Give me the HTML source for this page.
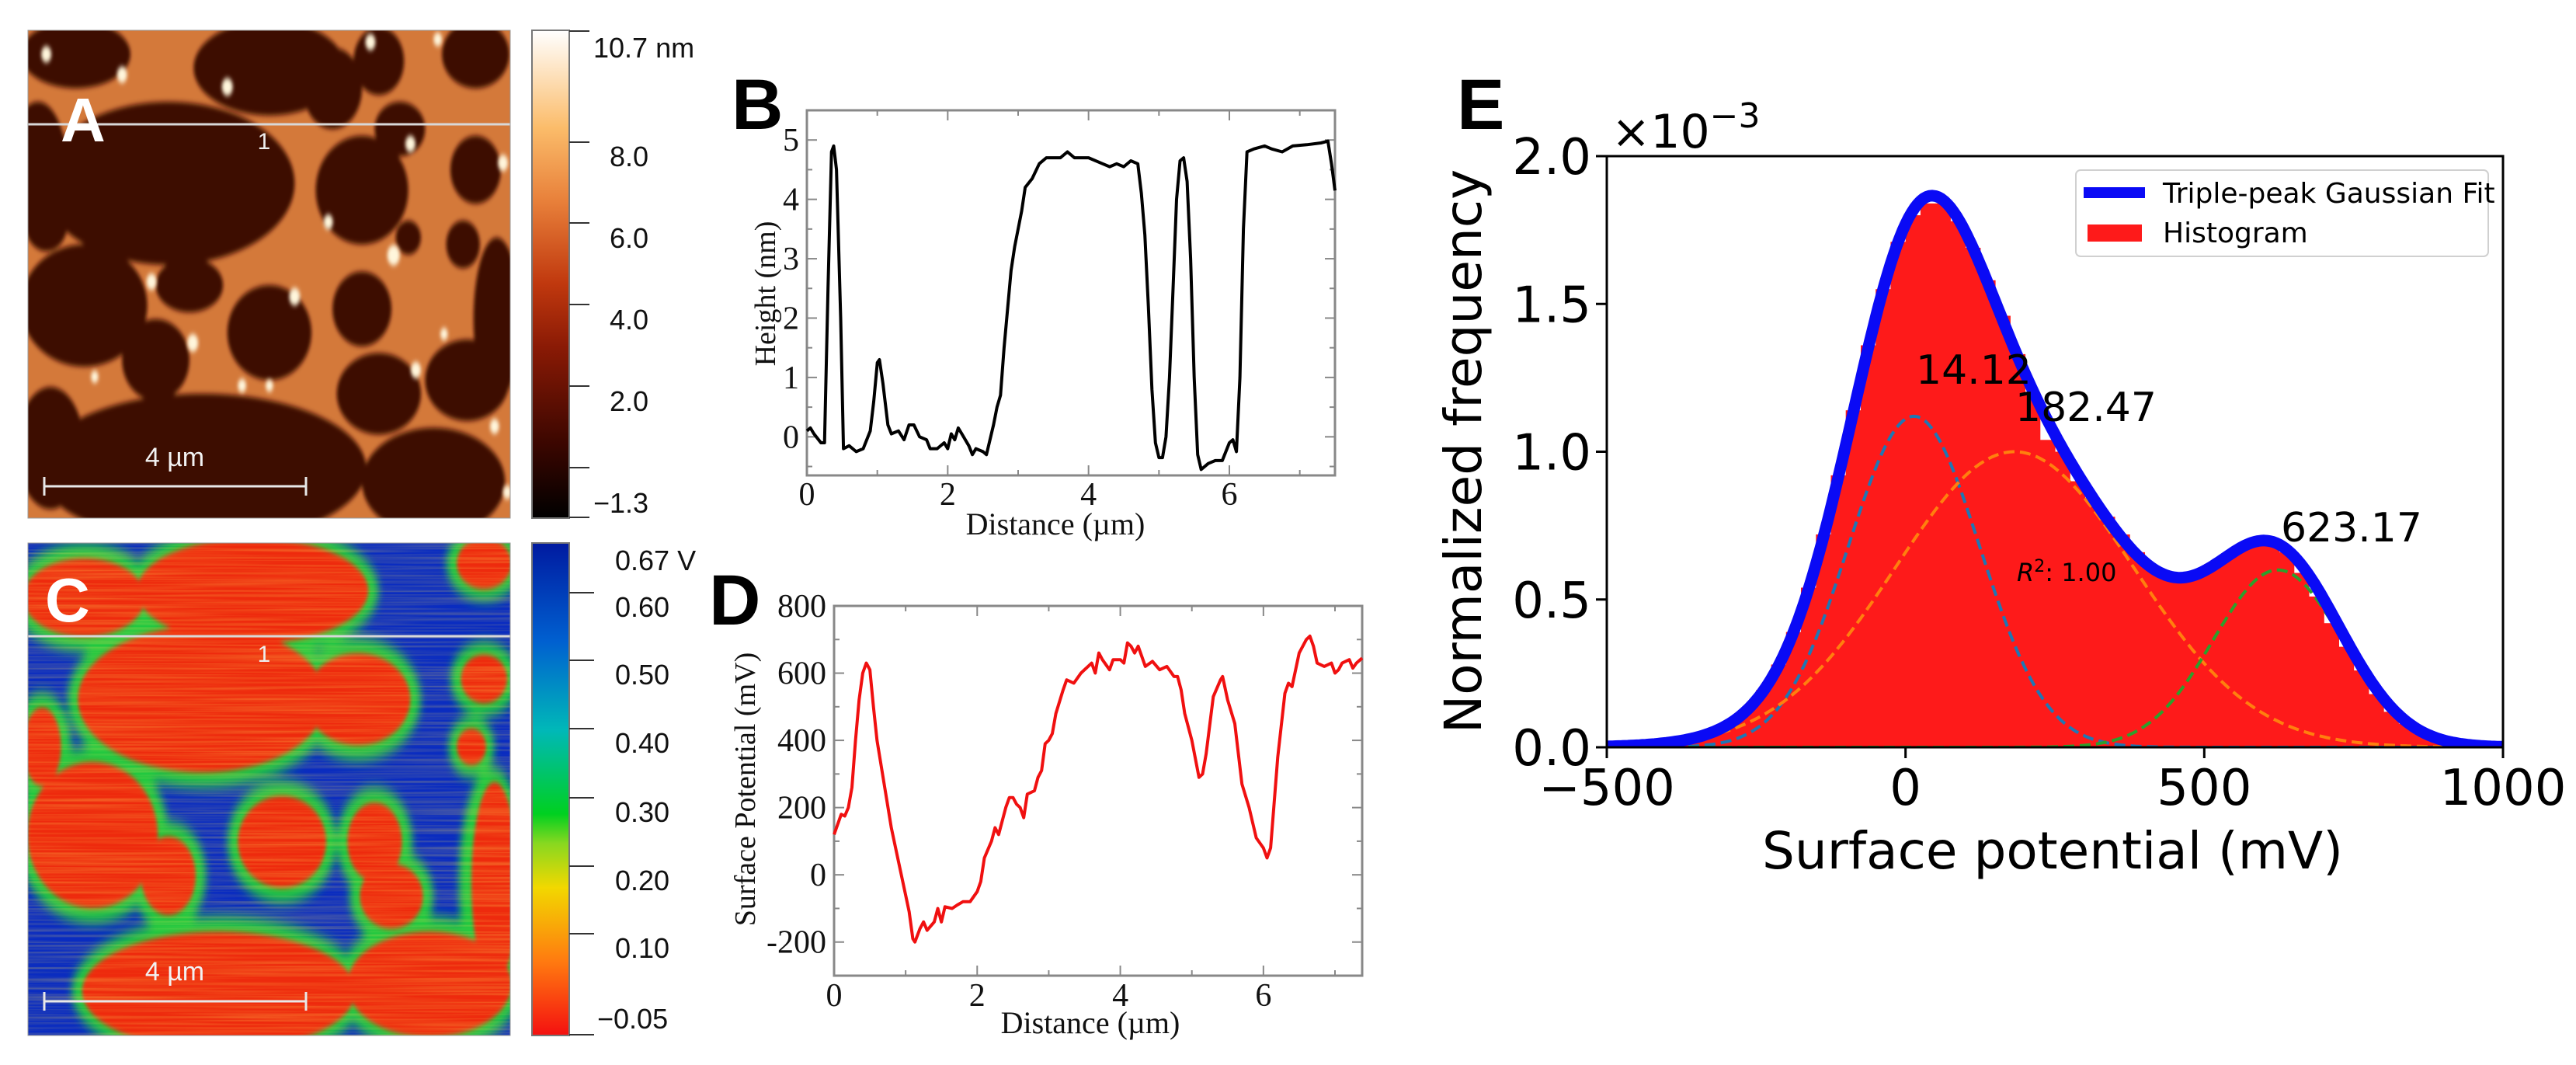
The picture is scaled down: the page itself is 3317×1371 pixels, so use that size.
<!DOCTYPE html>
<html><head><meta charset="utf-8"><style>
html,body{margin:0;padding:0;background:#fff;}
svg{display:block;}
.serif{font-family:"Liberation Serif","DejaVu Serif",serif;}
.sans{font-family:"Liberation Sans","DejaVu Sans",sans-serif;}
.dv{font-family:"DejaVu Sans","Liberation Sans",sans-serif;}
</style></head><body>
<svg id="fig" width="3317" height="1371" viewBox="0 0 3317 1371" xmlns="http://www.w3.org/2000/svg">
<defs>
<filter id="soft" x="-20%" y="-20%" width="140%" height="140%"><feGaussianBlur stdDeviation="4"/></filter>
<filter id="soft2" x="-20%" y="-20%" width="140%" height="140%"><feGaussianBlur stdDeviation="9"/></filter>
<filter id="noise" x="0" y="0" width="100%" height="100%">
<feTurbulence type="fractalNoise" baseFrequency="0.004 0.35" numOctaves="2" seed="3" result="t"/>
<feColorMatrix type="matrix" values="0 0 0 0 1  0 0 0 0 0.75  0 0 0 0 0.1  0 0 0 1.6 -0.55"/>
</filter>
<linearGradient id="gA" x1="0" y1="1" x2="0" y2="0">
<stop offset="0" stop-color="#000"/><stop offset="0.15" stop-color="#3a0600"/><stop offset="0.35" stop-color="#8a1a05"/><stop offset="0.48" stop-color="#c0380e"/><stop offset="0.65" stop-color="#e8803a"/><stop offset="0.8" stop-color="#fbbc6a"/><stop offset="1" stop-color="#fff"/>
</linearGradient>
<linearGradient id="gC" x1="0" y1="1" x2="0" y2="0">
<stop offset="0" stop-color="#f41010"/><stop offset="0.15" stop-color="#ff7a10"/><stop offset="0.3" stop-color="#f2d800"/><stop offset="0.39" stop-color="#88d820"/><stop offset="0.45" stop-color="#00d020"/><stop offset="0.62" stop-color="#00b8b8"/><stop offset="0.8" stop-color="#0060d0"/><stop offset="1" stop-color="#001aa0"/>
</linearGradient>
<clipPath id="clipA"><rect x="36" y="39" width="621" height="628"/></clipPath>
<clipPath id="clipC"><rect x="36" y="699" width="621" height="634"/></clipPath>
<clipPath id="clipE"><rect x="2069" y="150" width="1154" height="812"/></clipPath>
</defs>

<!-- Panel A image -->
<g clip-path="url(#clipA)">
<rect x="36" y="39" width="621" height="628" fill="#d4793a"/>
<g transform="scale(0.542,0.874)" fill="#3c0a02" filter="url(#soft)">
<ellipse cx="180" cy="80" rx="130" ry="50"/><ellipse cx="90" cy="250" rx="70" ry="100"/>
<ellipse cx="400" cy="270" rx="300" ry="120"/><ellipse cx="640" cy="100" rx="180" ry="70"/>
<ellipse cx="790" cy="130" rx="70" ry="60"/><ellipse cx="900" cy="90" rx="60" ry="50"/>
<ellipse cx="1130" cy="80" rx="80" ry="50"/><ellipse cx="950" cy="190" rx="60" ry="40"/>
<ellipse cx="1130" cy="250" rx="60" ry="50"/><ellipse cx="860" cy="280" rx="110" ry="80"/>
<ellipse cx="970" cy="350" rx="30" ry="25"/><ellipse cx="1100" cy="360" rx="40" ry="35"/>
<ellipse cx="200" cy="450" rx="150" ry="90"/><ellipse cx="110" cy="330" rx="50" ry="40"/>
<ellipse cx="450" cy="420" rx="80" ry="40"/><ellipse cx="370" cy="530" rx="80" ry="60"/>
<ellipse cx="640" cy="490" rx="100" ry="70"/><ellipse cx="860" cy="455" rx="70" ry="55"/>
<ellipse cx="1180" cy="470" rx="55" ry="120"/><ellipse cx="900" cy="580" rx="100" ry="60"/>
<ellipse cx="1110" cy="560" rx="100" ry="60"/><ellipse cx="480" cy="690" rx="390" ry="110"/>
<ellipse cx="1030" cy="710" rx="170" ry="80"/><ellipse cx="120" cy="660" rx="80" ry="90"/>
</g>
<g transform="scale(0.542,0.874)" fill="#fff6dc" filter="url(#soft)">
<circle cx="110" cy="80" r="12"/><circle cx="290" cy="110" r="12"/><circle cx="540" cy="128" r="13"/><circle cx="880" cy="62" r="12"/><circle cx="1040" cy="58" r="10"/><circle cx="975" cy="212" r="12"/><circle cx="1195" cy="240" r="12"/><circle cx="780" cy="327" r="11"/><circle cx="935" cy="376" r="15"/><circle cx="700" cy="437" r="13"/><circle cx="360" cy="415" r="12"/><circle cx="458" cy="505" r="13"/><circle cx="1055" cy="492" r="9"/><circle cx="988" cy="545" r="12"/><circle cx="575" cy="568" r="10"/><circle cx="640" cy="568" r="9"/><circle cx="225" cy="555" r="9"/><circle cx="1175" cy="628" r="11"/><circle cx="1205" cy="725" r="10"/>
</g>
<line x1="36" y1="160" x2="657" y2="160" stroke="#d8d8d8" stroke-width="3"/>
<text x="340" y="192" class="sans" font-size="30" fill="#eee" text-anchor="middle">1</text>
<text x="78" y="182" class="sans" font-size="80" font-weight="bold" fill="#fff">A</text>
<g stroke="#e8e8e8" stroke-width="3"><line x1="57" y1="626" x2="394" y2="626"/><line x1="57" y1="614" x2="57" y2="638"/><line x1="394" y1="614" x2="394" y2="638"/></g>
<text x="225" y="600" class="sans" font-size="34" fill="#f2f2f2" text-anchor="middle">4 µm</text>
</g>

<!-- Panel C image -->
<g clip-path="url(#clipC)">
<rect x="36" y="699" width="621" height="634" fill="#0a2cc0"/>
<g transform="translate(0,0) scale(0.542,0.874)">
<g fill="#20c840" filter="url(#soft2)">
<ellipse cx="600" cy="870" rx="300" ry="100"/><ellipse cx="200" cy="880" rx="170" ry="80"/><ellipse cx="1150" cy="830" rx="90" ry="55"/>
<ellipse cx="480" cy="1030" rx="320" ry="130"/><ellipse cx="850" cy="1030" rx="150" ry="90"/><ellipse cx="1150" cy="1000" rx="80" ry="55"/>
<ellipse cx="100" cy="1100" rx="70" ry="80"/><ellipse cx="220" cy="1230" rx="180" ry="130"/><ellipse cx="670" cy="1240" rx="130" ry="90"/>
<ellipse cx="890" cy="1240" rx="90" ry="80"/><ellipse cx="400" cy="1290" rx="90" ry="80"/><ellipse cx="1120" cy="1100" rx="55" ry="45"/>
<ellipse cx="1170" cy="1300" rx="80" ry="170"/><ellipse cx="930" cy="1320" rx="100" ry="70"/><ellipse cx="520" cy="1460" rx="350" ry="110"/><ellipse cx="1020" cy="1450" rx="220" ry="100"/>
</g>
<g fill="#ee2a10" filter="url(#soft)">
<ellipse cx="600" cy="870" rx="275" ry="78"/><ellipse cx="200" cy="880" rx="145" ry="58"/><ellipse cx="1150" cy="830" rx="65" ry="38"/>
<ellipse cx="480" cy="1030" rx="295" ry="108"/><ellipse cx="850" cy="1030" rx="125" ry="68"/><ellipse cx="1150" cy="1000" rx="55" ry="36"/>
<ellipse cx="100" cy="1100" rx="45" ry="58"/><ellipse cx="220" cy="1230" rx="155" ry="108"/><ellipse cx="670" cy="1240" rx="105" ry="68"/>
<ellipse cx="890" cy="1240" rx="65" ry="58"/><ellipse cx="400" cy="1290" rx="65" ry="58"/><ellipse cx="1120" cy="1100" rx="35" ry="27"/>
<ellipse cx="1175" cy="1300" rx="55" ry="148"/><ellipse cx="930" cy="1320" rx="75" ry="48"/><ellipse cx="520" cy="1460" rx="325" ry="88"/><ellipse cx="1020" cy="1450" rx="195" ry="78"/>
</g>
</g>
<rect x="36" y="699" width="621" height="634" fill="#fff" filter="url(#noise)" opacity="0.35"/>
<line x1="36" y1="819" x2="657" y2="819" stroke="#d8d8d8" stroke-width="3"/>
<text x="340" y="852" class="sans" font-size="30" fill="#eee" text-anchor="middle">1</text>
<text x="58" y="800" class="sans" font-size="80" font-weight="bold" fill="#fff">C</text>
<g stroke="#e8e8e8" stroke-width="3"><line x1="57" y1="1289" x2="394" y2="1289"/><line x1="57" y1="1277" x2="57" y2="1301"/><line x1="394" y1="1277" x2="394" y2="1301"/></g>
<text x="225" y="1262" class="sans" font-size="34" fill="#f2f2f2" text-anchor="middle">4 µm</text>
</g>
<rect x="36" y="39" width="621" height="628" fill="none" stroke="#999" stroke-width="1"/>
<rect x="36" y="699" width="621" height="634" fill="none" stroke="#999" stroke-width="1"/>

<!-- Colorbars -->
<g>
<rect x="685" y="39" width="48" height="628" fill="url(#gA)" stroke="#777" stroke-width="2"/>
<g stroke="#333" stroke-width="2"><line x1="733" y1="40" x2="759" y2="40"/><line x1="733" y1="183" x2="759" y2="183"/><line x1="733" y1="287" x2="759" y2="287"/><line x1="733" y1="392" x2="759" y2="392"/><line x1="733" y1="497" x2="759" y2="497"/><line x1="733" y1="602" x2="759" y2="602"/><line x1="733" y1="666" x2="759" y2="666"/></g>
<g class="sans" font-size="36" fill="#111"><text x="764" y="74">10.7 nm</text><text x="785" y="214">8.0</text><text x="785" y="319">6.0</text><text x="785" y="424">4.0</text><text x="785" y="529">2.0</text><text x="764" y="660">−1.3</text></g>
</g>
<g>
<rect x="685" y="699" width="48" height="634" fill="url(#gC)" stroke="#777" stroke-width="2"/>
<g stroke="#333" stroke-width="2"><line x1="733" y1="763" x2="765" y2="763"/><line x1="733" y1="850" x2="765" y2="850"/><line x1="733" y1="938" x2="765" y2="938"/><line x1="733" y1="1027" x2="765" y2="1027"/><line x1="733" y1="1115" x2="765" y2="1115"/><line x1="733" y1="1202" x2="765" y2="1202"/><line x1="733" y1="1332" x2="765" y2="1332"/></g>
<g class="sans" font-size="36" fill="#111"><text x="792" y="734">0.67 V</text><text x="792" y="794">0.60</text><text x="792" y="881">0.50</text><text x="792" y="969">0.40</text><text x="792" y="1058">0.30</text><text x="792" y="1146">0.20</text><text x="792" y="1233">0.10</text><text x="769" y="1324">−0.05</text></g>
</g>

<g id="panelB"></g>
<g id="panelD"></g>
<g id="panelE"></g>
</svg>

<script>
// ---- Panel B data ----
const bX = [0,0.05,0.1,0.2,0.25,0.3,0.35,0.38,0.42,0.48,0.52,0.6,0.7,0.8,0.9,0.95,1.0,1.03,1.08,1.15,1.2,1.3,1.38,1.45,1.52,1.6,1.7,1.75,1.85,1.95,2.0,2.05,2.1,2.15,2.2,2.3,2.35,2.4,2.5,2.55,2.65,2.7,2.75,2.8,2.9,2.95,3.05,3.1,3.2,3.3,3.4,3.6,3.7,3.8,4.0,4.2,4.3,4.4,4.5,4.6,4.7,4.75,4.8,4.85,4.9,4.95,5.0,5.05,5.1,5.15,5.2,5.25,5.3,5.35,5.4,5.45,5.5,5.55,5.6,5.7,5.8,5.9,6.0,6.05,6.1,6.15,6.2,6.25,6.35,6.5,6.6,6.75,6.9,7.1,7.3,7.4,7.45,7.5];
const bY = [0.1,0.15,0.05,-0.1,-0.1,2.5,4.8,4.9,4.5,2,-0.2,-0.15,-0.25,-0.2,0.1,0.6,1.25,1.3,0.9,0.2,0.05,0.1,-0.05,0.2,0.2,0,-0.05,-0.2,-0.2,-0.1,-0.2,0.05,-0.05,0.15,0.05,-0.15,-0.3,-0.2,-0.25,-0.3,0.2,0.5,0.7,1.5,2.8,3.2,3.8,4.2,4.35,4.6,4.7,4.7,4.8,4.7,4.7,4.6,4.55,4.6,4.55,4.65,4.6,4.1,3.4,2.2,0.8,-0.1,-0.35,-0.35,0,1,2.5,4.0,4.65,4.7,4.3,3,1,-0.3,-0.55,-0.45,-0.4,-0.4,-0.1,-0.05,-0.25,1,3.5,4.8,4.85,4.9,4.85,4.8,4.9,4.92,4.95,4.98,4.6,4.15];
const bXTicks = [0,2,4,6];
const bYTicks = [0,1,2,3,4,5];
// ---- Panel D data ----
const dX = [0,0.05,0.1,0.15,0.2,0.25,0.3,0.35,0.4,0.45,0.5,0.55,0.6,0.7,0.8,0.9,1.0,1.05,1.1,1.13,1.2,1.25,1.3,1.4,1.45,1.5,1.55,1.65,1.72,1.8,1.9,2.0,2.05,2.1,2.2,2.25,2.3,2.4,2.45,2.5,2.55,2.6,2.65,2.7,2.8,2.85,2.9,2.95,3.0,3.05,3.1,3.2,3.25,3.35,3.45,3.6,3.65,3.7,3.75,3.85,3.9,4.0,4.05,4.1,4.15,4.2,4.25,4.3,4.35,4.45,4.55,4.65,4.75,4.8,4.85,4.9,5.0,5.1,5.15,5.2,5.3,5.4,5.43,5.5,5.6,5.7,5.8,5.9,6.0,6.05,6.1,6.2,6.3,6.35,6.4,6.5,6.6,6.65,6.7,6.75,6.85,6.95,7.0,7.05,7.1,7.2,7.25,7.3,7.38];
const dY = [120,150,180,175,200,260,400,520,600,630,610,500,400,270,140,40,-60,-110,-190,-200,-160,-140,-165,-140,-100,-140,-95,-100,-90,-80,-80,-50,-20,50,100,140,120,200,230,230,210,200,170,240,250,290,310,390,400,420,480,550,580,570,600,630,600,660,640,610,640,640,630,690,680,660,680,650,620,635,610,620,590,590,550,480,400,290,300,360,530,580,590,520,450,270,200,110,80,50,80,350,540,570,560,660,700,710,680,630,620,630,600,610,630,640,615,630,645];
const dXTicks = [0,2,4,6];
const dYTicks = [-200,0,200,400,600,800];
// ---- Panel E data ----
const eBinStart = -500, eBinWidth = 25;
const eHist = [0.004,0.006,0.009,0.013,0.02,0.03,0.042,0.063,0.093,0.133,0.194,0.28,0.39,0.54,0.72,0.92,1.14,1.36,1.55,1.71,1.8,1.84,1.84,1.78,1.69,1.58,1.46,1.33,1.2,1.04,1.0,0.9,0.84,0.78,0.72,0.66,0.6,0.58,0.57,0.58,0.62,0.65,0.68,0.70,0.69,0.66,0.59,0.51,0.42,0.34,0.26,0.18,0.12,0.08,0.045,0.025,0.012,0.005,0.002,0.001];
const eAmps = [1.12,1.0,0.6];
const eMeans = [14.12,182.47,623.17];
const eSigmas = [110,200,108];
const ePeakLabels = ["14.12","182.47","623.17"];
const eXTicks = [-500,0,500,1000];
const eYTicks = [0.0,0.5,1.0,1.5,2.0];

const NS = "http://www.w3.org/2000/svg";
function mk(parent, tag, attrs, text){
  const el = document.createElementNS(NS, tag);
  for (const k in attrs) el.setAttribute(k, attrs[k]);
  if (text !== undefined) el.textContent = text;
  parent.appendChild(el);
  return el;
}

// ===== Panel B =====
(function(){
  const g = document.getElementById('panelB');
  const L=1039,R=1719,T=142,B=612, xMin=0,xMax=7.5,yMin=-0.65,yMax=5.5;
  const xB = v => L + (v-xMin)*(R-L)/(xMax-xMin);
  const yB = v => B - (v-yMin)*(B-T)/(yMax-yMin);
  const frame = mk(g,'rect',{x:L,y:T,width:R-L,height:B-T,fill:'none',stroke:'#888','stroke-width':3});
  
  
  for (let v=1; v<=7; v+=2){ mk(g,'line',{x1:xB(v),x2:xB(v),y1:B,y2:B-7,stroke:'#888','stroke-width':2}); mk(g,'line',{x1:xB(v),x2:xB(v),y1:T,y2:T+7,stroke:'#888','stroke-width':2}); }
  bXTicks.forEach(v=>{
    mk(g,'line',{x1:xB(v),x2:xB(v),y1:B,y2:B-13,stroke:'#888','stroke-width':2});
    mk(g,'line',{x1:xB(v),x2:xB(v),y1:T,y2:T+13,stroke:'#888','stroke-width':2});
    const t = mk(g,'text',{x:xB(v),y:650,'text-anchor':'middle','font-size':42,class:'serif',fill:'#111'},String(v));
    
    
  });
  for (let v=-0.5; v<=5.5; v+=1){ mk(g,'line',{x1:L,x2:L+7,y1:yB(v),y2:yB(v),stroke:'#888','stroke-width':2}); mk(g,'line',{x1:R,x2:R-7,y1:yB(v),y2:yB(v),stroke:'#888','stroke-width':2}); }
  bYTicks.forEach(v=>{
    mk(g,'line',{x1:L,x2:L+13,y1:yB(v),y2:yB(v),stroke:'#888','stroke-width':2});
    mk(g,'line',{x1:R,x2:R-13,y1:yB(v),y2:yB(v),stroke:'#888','stroke-width':2});
    const t = mk(g,'text',{x:L-10,y:yB(v)+14,'text-anchor':'end','font-size':42,class:'serif',fill:'#111'},String(v));
    
    
  });
  const d = bX.map((x,i)=>(i?'L':'M')+xB(x).toFixed(1)+','+yB(bY[i]).toFixed(1)).join(' ');
  const p = mk(g,'path',{d:d,fill:'none',stroke:'#000','stroke-width':4,'stroke-linejoin':'round'});
  
  
  const xt = mk(g,'text',{x:(L+R)/2-20,y:688,'text-anchor':'middle','font-size':40,class:'serif',fill:'#111'},'Distance (µm)');
  
  
  const yt = mk(g,'text',{x:0,y:0,transform:'translate(998,378) rotate(-90)','text-anchor':'middle','font-size':38,class:'serif',fill:'#111'},'Height (nm)');
  
  
  const lb = mk(g,'text',{x:942,y:166,'font-size':92,'font-weight':'bold',class:'sans',fill:'#000'},'B');
  
  
})();

// ===== Panel D =====
(function(){
  const g = document.getElementById('panelD');
  const L=1074,R=1754,T=780,B=1256, xMin=0,xMax=7.38,yMin=-300,yMax=800;
  const xD = v => L + (v-xMin)*(R-L)/(xMax-xMin);
  const yD = v => B - (v-yMin)*(B-T)/(yMax-yMin);
  const frame = mk(g,'rect',{x:L,y:T,width:R-L,height:B-T,fill:'none',stroke:'#888','stroke-width':3});
  
  
  for (let v=1; v<=7; v+=2){ mk(g,'line',{x1:xD(v),x2:xD(v),y1:B,y2:B-7,stroke:'#888','stroke-width':2}); mk(g,'line',{x1:xD(v),x2:xD(v),y1:T,y2:T+7,stroke:'#888','stroke-width':2}); }
  dXTicks.forEach(v=>{
    mk(g,'line',{x1:xD(v),x2:xD(v),y1:B,y2:B-13,stroke:'#888','stroke-width':2});
    mk(g,'line',{x1:xD(v),x2:xD(v),y1:T,y2:T+13,stroke:'#888','stroke-width':2});
    const t = mk(g,'text',{x:xD(v),y:1295,'text-anchor':'middle','font-size':42,class:'serif',fill:'#111'},String(v));
    
    
  });
  for (let v=-300; v<=700; v+=200){ mk(g,'line',{x1:L,x2:L+7,y1:yD(v),y2:yD(v),stroke:'#888','stroke-width':2}); mk(g,'line',{x1:R,x2:R-7,y1:yD(v),y2:yD(v),stroke:'#888','stroke-width':2}); }
  dYTicks.forEach(v=>{
    mk(g,'line',{x1:L,x2:L+13,y1:yD(v),y2:yD(v),stroke:'#888','stroke-width':2});
    mk(g,'line',{x1:R,x2:R-13,y1:yD(v),y2:yD(v),stroke:'#888','stroke-width':2});
    const t = mk(g,'text',{x:L-10,y:yD(v)+14,'text-anchor':'end','font-size':42,class:'serif',fill:'#111'},v<0?'-'+Math.abs(v):String(v));
    
    
  });
  const d = dX.map((x,i)=>(i?'L':'M')+xD(x).toFixed(1)+','+yD(dY[i]).toFixed(1)).join(' ');
  const p = mk(g,'path',{d:d,fill:'none',stroke:'#f01010','stroke-width':4,'stroke-linejoin':'round'});
  
  
  const xt = mk(g,'text',{x:(L+R)/2-10,y:1330,'text-anchor':'middle','font-size':40,class:'serif',fill:'#111'},'Distance (µm)');
  
  
  const yt = mk(g,'text',{x:0,y:0,transform:'translate(972,1016) rotate(-90)','text-anchor':'middle','font-size':38,class:'serif',fill:'#111'},'Surface Potential (mV)');
  
  
  const lb = mk(g,'text',{x:913,y:804,'font-size':92,'font-weight':'bold',class:'sans',fill:'#000'},'D');
  
  
})();

// ===== Panel E =====
(function(){
  const g = document.getElementById('panelE');
  const L=2069,R=3223,T=201,B=962, xMin=-500,xMax=1000,yMin=0,yMax=2.0;
  const xE = v => L + (v-xMin)*(R-L)/(xMax-xMin);
  const yE = v => B - (v-yMin)*(B-T)/(yMax-yMin);
  const cl = mk(g,'g',{'clip-path':'url(#clipE)'});
  eHist.forEach((h,i)=>{
    const x0 = eBinStart + i*eBinWidth;
    const r = mk(cl,'rect',{x:xE(x0).toFixed(1),y:yE(h).toFixed(1),width:(xE(x0+eBinWidth)-xE(x0)+0.6).toFixed(1),height:(B-yE(h)).toFixed(1),fill:'#fe1a1a'});
    
    
  });
  const gauss = (k,x) => eAmps[k]*Math.exp(-Math.pow(x-eMeans[k],2)/(2*eSigmas[k]*eSigmas[k]));
  const cols = ['#1f77b4','#ff7f0e','#2ca02c'];
  [0,1,2].forEach(k=>{
    let d='';
    for (let x=xMin; x<=xMax; x+=5) d += (x===xMin?'M':'L')+xE(x).toFixed(1)+','+yE(gauss(k,x)).toFixed(1)+' ';
    const p = mk(cl,'path',{d:d,fill:'none',stroke:cols[k],'stroke-width':4,'stroke-dasharray':'14 7'});
    
    
  });
  let d='';
  for (let x=xMin; x<=xMax; x+=5){ const s=gauss(0,x)+gauss(1,x)+gauss(2,x); d += (x===xMin?'M':'L')+xE(x).toFixed(1)+','+yE(s).toFixed(1)+' '; }
  const fit = mk(cl,'path',{d:d,fill:'none',stroke:'#0a0af5','stroke-width':15,'stroke-linejoin':'round'});
  
  
  mk(g,'rect',{x:L,y:T,width:R-L,height:B-T,fill:'none',stroke:'#000','stroke-width':3});
  eXTicks.forEach(v=>{
    mk(g,'line',{x1:xE(v),x2:xE(v),y1:B,y2:B+14,stroke:'#000','stroke-width':3});
    const t = mk(g,'text',{x:xE(v),y:1036,'text-anchor':'middle','font-size':64,class:'dv',fill:'#000'},v<0?'−'+Math.abs(v):String(v));
    
    
  });
  eYTicks.forEach(v=>{
    mk(g,'line',{x1:L,x2:L-14,y1:yE(v),y2:yE(v),stroke:'#000','stroke-width':3});
    const t = mk(g,'text',{x:L-20,y:yE(v)+23,'text-anchor':'end','font-size':64,class:'dv',fill:'#000'},v.toFixed(1));
    
    
  });
  const ann = [[2467,494],[2595,542],[2937,697]];
  ePeakLabels.forEach((s,i)=>{
    const t = mk(g,'text',{x:ann[i][0],y:ann[i][1],'font-size':52,class:'dv',fill:'#000'},s);
    
    
  });
  const r2 = mk(g,'text',{x:2597,y:748,'font-size':32,class:'dv',fill:'#000'});
  r2.innerHTML = '<tspan font-style="italic">R</tspan><tspan dy="-12" font-size="22">2</tspan><tspan dy="12">: 1.00</tspan>';
  
  
  const ex = mk(g,'text',{x:2075,y:190,'font-size':60,class:'dv',fill:'#000'});
  ex.innerHTML = '×10<tspan dy="-26" font-size="44">−3</tspan>';
  
  
  const xt = mk(g,'text',{x:2643,y:1118,'text-anchor':'middle','font-size':66,class:'dv',fill:'#000'},'Surface potential (mV)');
  
  
  const yt = mk(g,'text',{x:0,y:0,transform:'translate(1907,581) rotate(-90)','text-anchor':'middle','font-size':66,class:'dv',fill:'#000'},'Normalized frequency');
  
  
  const lb = mk(g,'text',{x:1876,y:166,'font-size':92,'font-weight':'bold',class:'sans',fill:'#000'},'E');
  
  
  const lg = mk(g,'g',{});
  
  
  mk(lg,'rect',{x:2673,y:219,width:531,height:111,rx:6,fill:'#fff','fill-opacity':0.85,stroke:'#d0d0d0','stroke-width':2});
  mk(lg,'line',{x1:2683,x2:2762,y1:248,y2:248,stroke:'#0a0af5','stroke-width':14});
  const t1 = mk(lg,'text',{x:2785,y:261,'font-size':36,class:'dv',fill:'#000'},'Triple-peak Gaussian Fit');
  
  
  mk(lg,'rect',{x:2688,y:289,width:70,height:22,fill:'#fe1a1a'});
  const t2 = mk(lg,'text',{x:2785,y:312,'font-size':36,class:'dv',fill:'#000'},'Histogram');
  
  
})();
</script>
</body></html>
